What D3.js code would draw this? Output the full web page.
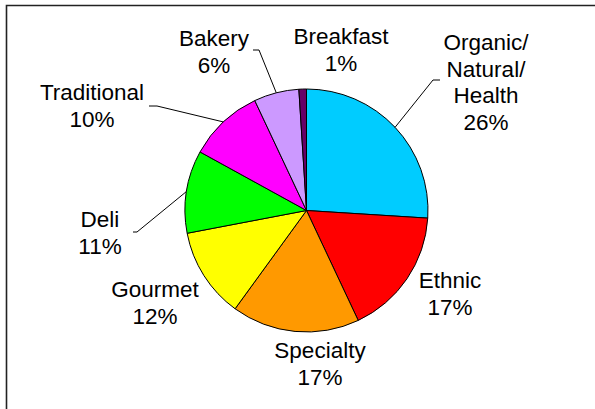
<!DOCTYPE html>
<html>
<head>
<meta charset="utf-8">
<script src="https://cdn.jsdelivr.net/npm/d3@7"></script>
<style>
  html, body { margin: 0; padding: 0; background: #fff; }
  svg { display: block; }
  text { font-family: Arial, "Liberation Sans", sans-serif; fill: #000; }
</style>
</head>
<body>
<svg id="chart" width="595" height="409"></svg>
<script>
// Category shares (%), clockwise from 12 o'clock
const categories = ["Organic/Natural/Health", "Ethnic", "Specialty", "Gourmet", "Deli", "Traditional", "Bakery", "Breakfast"];
const shares = [26, 17, 17, 12, 11, 10, 6, 1];
const labelLines = [
  ["Organic/", "Natural/", "Health"],
  ["Ethnic"], ["Specialty"], ["Gourmet"], ["Deli"], ["Traditional"], ["Bakery"], ["Breakfast"]
];
const sliceColors = ["#00CCFF", "#FF0000", "#FF9900", "#FFFF00", "#00FF00", "#FF00FF", "#CC99FF", "#660066"];

// Label placement: text centre x, first baseline y, optional leader elbow
const labelLayout = {
  "Organic/Natural/Health": { x: 486, y: 50, elbow: [[440, 80], [433, 80]] },
  "Ethnic":      { x: 450, y: 288 },
  "Specialty":   { x: 320, y: 358 },
  "Gourmet":     { x: 155, y: 297 },
  "Deli":        { x: 100, y: 227, elbow: [[133, 232], [137, 232]] },
  "Traditional": { x: 92,  y: 100, elbow: [[149, 106], [157, 106]] },
  "Bakery":      { x: 214, y: 46,  elbow: [[253, 50], [259, 50]] },
  "Breakfast":   { x: 341, y: 44 }
};

const W = 595, H = 409;
const cx = 306.5, cy = 210.5, R = 121.5;
const lineH = 26.6;
const fontSize = 22.5;

const svg = d3.select("#chart");

// Chart area frame (runs past the right and bottom edges)
svg.append("path")
  .attr("d", `M6.5,${H + 5} V5.5 H${W + 5}`)
  .attr("fill", "none")
  .attr("stroke", "#222")
  .attr("stroke-width", 1.6);

const data = categories.map((c, i) => ({ name: c, value: shares[i], color: sliceColors[i], lines: labelLines[i] }));

const pie = d3.pie().value(d => d.value).sort(null);
const arcs = pie(data);
const arc = d3.arc().innerRadius(0).outerRadius(R);

const g = svg.append("g").attr("transform", `translate(${cx},${cy})`);

g.selectAll("path.slice")
  .data(arcs)
  .join("path")
  .attr("class", "slice")
  .attr("d", arc)
  .attr("fill", d => d.data.color)
  .attr("stroke", "#000")
  .attr("stroke-width", 1)
  .attr("stroke-linejoin", "round");

// Leader lines: from the slice's mid-angle on the rim to the label elbow
const leaders = svg.append("g")
  .attr("fill", "none")
  .attr("stroke", "#000")
  .attr("stroke-width", 1);

arcs.forEach(a => {
  const lay = labelLayout[a.data.name];
  if (!lay.elbow) return;
  const mid = (a.startAngle + a.endAngle) / 2;
  const rim = [cx + R * Math.sin(mid), cy - R * Math.cos(mid)];
  const pts = [...lay.elbow, rim];
  leaders.append("path").attr("d", d3.line()(pts));
});

// Labels: category name lines plus percentage
const labels = svg.append("g")
  .attr("font-size", fontSize)
  .attr("text-anchor", "middle");

arcs.forEach(a => {
  const lay = labelLayout[a.data.name];
  const lines = [...a.data.lines, d3.format("d")(a.data.value) + "%"];
  const t = labels.append("text").attr("x", lay.x).attr("y", lay.y);
  lines.forEach((ln, i) => {
    t.append("tspan")
      .attr("x", lay.x)
      .attr("y", lay.y + i * lineH)
      .text(ln);
  });
});
</script>
</body>
</html>
